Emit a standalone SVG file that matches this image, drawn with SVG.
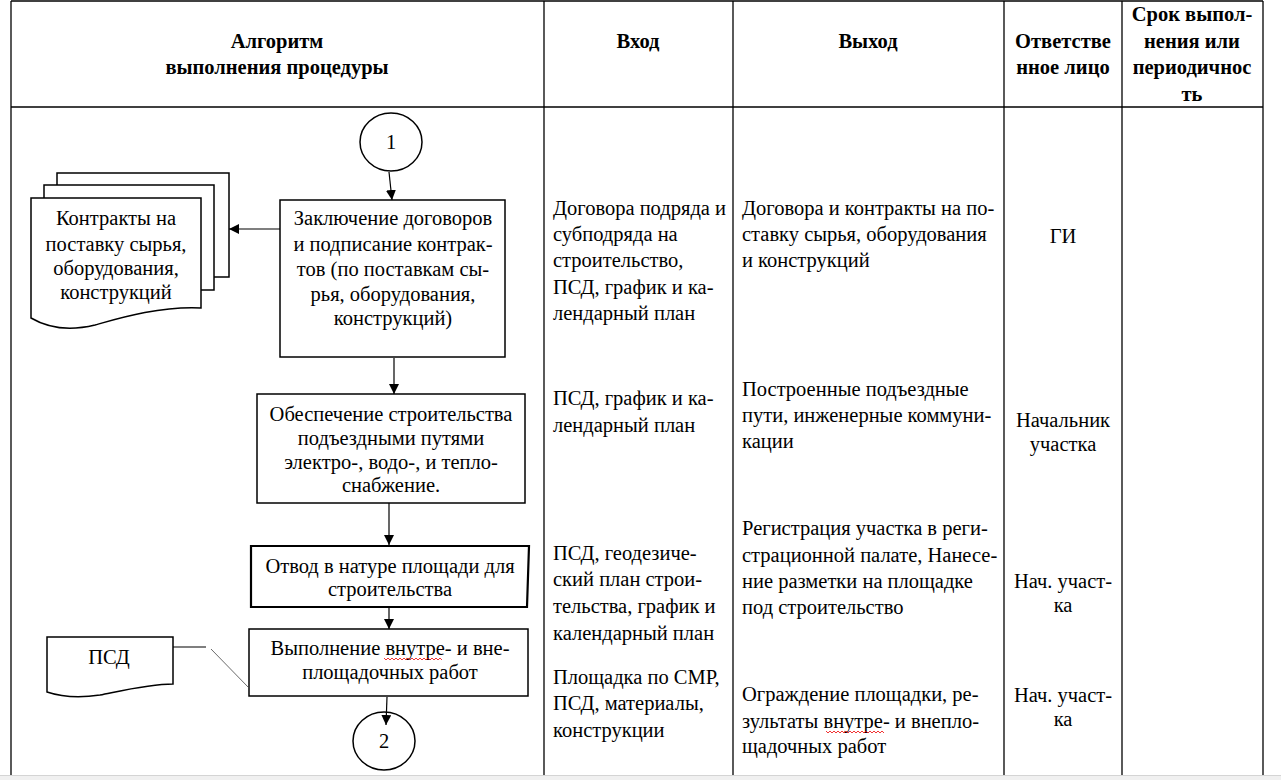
<svg xmlns="http://www.w3.org/2000/svg" width="1281" height="780" viewBox="0 0 1281 780">
<style>
.t{font-family:'Liberation Serif',serif;font-size:20.5px;fill:#000}
.h{font-family:'Liberation Serif',serif;font-size:20.5px;font-weight:bold;fill:#000}
.c{text-anchor:middle}
.grid{stroke:#000;stroke-width:1.3;fill:none}
.box{fill:#fff;stroke:#000;stroke-width:1.5}
.conn{stroke:#000;stroke-width:1.2;fill:none}
.wavy{stroke:#e00;stroke-width:0.8;fill:none}
</style>
<defs>
<marker id="arr" markerUnits="userSpaceOnUse" markerWidth="10" markerHeight="10" viewBox="0 0 10 10" refX="10" refY="5" orient="auto">
<path d="M0,0 L10,5 L0,10 Z" fill="#000"/>
</marker>
</defs>
<rect x="0" y="0" width="1281" height="780" fill="#fff"/>
<g id="table">
<line class="grid" x1="11" y1="1" x2="1263" y2="1"/>
<line class="grid" x1="11" y1="107" x2="1263" y2="107"/>
<line class="grid" x1="11" y1="1" x2="11" y2="775"/>
<line class="grid" x1="544" y1="1" x2="544" y2="775"/>
<line class="grid" x1="733" y1="1" x2="733" y2="775"/>
<line class="grid" x1="1004" y1="1" x2="1004" y2="775"/>
<line class="grid" x1="1122" y1="1" x2="1122" y2="775"/>
<line class="grid" x1="1263" y1="1" x2="1263" y2="775"/>
</g>
<g id="header">
<text class="h c" x="277" y="48">Алгоритм</text>
<text class="h c" x="277" y="74">выполнения процедуры</text>
<text class="h c" x="638" y="48">Вход</text>
<text class="h c" x="868" y="48">Выход</text>
<text class="h c" x="1063" y="48">Ответстве</text>
<text class="h c" x="1063" y="74">нное лицо</text>
<text class="h c" x="1192" y="21">Срок выпол-</text>
<text class="h c" x="1192" y="48">нения или</text>
<text class="h c" x="1192" y="74">периодичнос</text>
<text class="h c" x="1192" y="101">ть</text>
</g>
<g id="start1">
<ellipse class="box" cx="391" cy="142" rx="31" ry="29"/>
<text class="t c" x="391" y="149">1</text>
</g>
<g id="contracts-doc">
<rect class="box" x="57" y="173" width="172" height="104"/>
<rect class="box" x="44" y="185" width="170" height="105"/>
<path class="box" d="M31,198 H201 V308 C160,306 120,318 95,325 C70,331 48,328 31,318 Z"/>
<text class="t c" x="116" y="225">Контракты на</text>
<text class="t c" x="116" y="251">поставку сырья,</text>
<text class="t c" x="116" y="275">оборудования,</text>
<text class="t c" x="116" y="299">конструкций</text>
</g>
<g id="step1">
<rect class="box" x="280" y="200" width="225" height="157"/>
<text class="t c" x="393" y="225">Заключение договоров</text>
<text class="t c" x="393" y="251">и подписание контрак-</text>
<text class="t c" x="393" y="276">тов (по поставкам сы-</text>
<text class="t c" x="393" y="301">рья, оборудования,</text>
<text class="t c" x="393" y="325">конструкций)</text>
</g>
<g id="step2">
<rect class="box" x="257" y="394" width="268" height="109"/>
<text class="t c" x="391" y="421">Обеспечение строительства</text>
<text class="t c" x="391" y="445">подъездными путями</text>
<text class="t c" x="391" y="469">электро-, водо-, и тепло-</text>
<text class="t c" x="391" y="492">снабжение.</text>
</g>
<g id="step3">
<path d="M251,546 L529,546 L527,607 L251,607 Z" fill="#fff" stroke="#000" stroke-width="2.2"/>
<text class="t c" x="390" y="573">Отвод в натуре площади для</text>
<text class="t c" x="390" y="596">строительства</text>
</g>
<g id="step4">
<rect class="box" x="249" y="629" width="279" height="67"/>
<text class="t c" x="390" y="655">Выполнение внутре- и вне-</text>
<text class="t c" x="390" y="679">площадочных работ</text>
<path class="wavy" d="M384,658 l2,2 l2,-2 l2,2 l2,-2 l2,2 l2,-2 l2,2 l2,-2 l2,2 l2,-2 l2,2 l2,-2 l2,2 l2,-2 l2,2 l2,-2 l2,2 l2,-2 l2,2 l2,-2 l2,2 l2,-2 l2,2 l2,-2 l2,2 l2,-2 l2,2 l2,-2 l2,2"/>
</g>
<g id="psd-doc">
<path class="box" d="M47,637 H173 V684 C150,684 125,690 100,695 C80,698 62,697 47,692 Z"/>
<text class="t c" x="109" y="664">ПСД</text>
</g>
<g id="end2">
<ellipse class="box" cx="384" cy="741" rx="31" ry="29"/>
<text class="t c" x="384" y="748">2</text>
</g>
<g id="input-col">
<text class="t" x="553" y="215">Договора подряда и</text>
<text class="t" x="553" y="241">субподряда на</text>
<text class="t" x="553" y="267">строительство,</text>
<text class="t" x="553" y="294">ПСД, график и ка-</text>
<text class="t" x="553" y="320">лендарный план</text>
<text class="t" x="553" y="405">ПСД, график и ка-</text>
<text class="t" x="553" y="432">лендарный план</text>
<text class="t" x="553" y="560">ПСД, геодезиче-</text>
<text class="t" x="553" y="586">ский план строи-</text>
<text class="t" x="553" y="613">тельства, график и</text>
<text class="t" x="553" y="640">календарный план</text>
<text class="t" x="553" y="684">Площадка по СМР,</text>
<text class="t" x="553" y="710">ПСД, материалы,</text>
<text class="t" x="553" y="737">конструкции</text>
</g>
<g id="output-col">
<text class="t" x="742" y="215">Договора и контракты на по-</text>
<text class="t" x="742" y="241">ставку сырья, оборудования</text>
<text class="t" x="742" y="267">и конструкций</text>
<text class="t" x="742" y="396">Построенные подъездные</text>
<text class="t" x="742" y="422">пути, инженерные коммуни-</text>
<text class="t" x="742" y="448">кации</text>
<text class="t" x="742" y="535">Регистрация участка в реги-</text>
<text class="t" x="742" y="562">страционной палате, Нанесе-</text>
<text class="t" x="742" y="588">ние разметки на площадке</text>
<text class="t" x="742" y="614">под строительство</text>
<text class="t" x="742" y="701">Ограждение площадки, ре-</text>
<text class="t" x="742" y="728">зультаты внутре- и внепло-</text>
<text class="t" x="742" y="753">щадочных работ</text>
<path class="wavy" d="M826,731 l2,2 l2,-2 l2,2 l2,-2 l2,2 l2,-2 l2,2 l2,-2 l2,2 l2,-2 l2,2 l2,-2 l2,2 l2,-2 l2,2 l2,-2 l2,2 l2,-2 l2,2 l2,-2 l2,2 l2,-2 l2,2 l2,-2 l2,2 l2,-2 l2,2 l2,-2 l2,2"/>
</g>
<g id="resp-col">
<text class="t c" x="1063" y="243">ГИ</text>
<text class="t c" x="1063" y="427">Начальник</text>
<text class="t c" x="1063" y="451">участка</text>
<text class="t c" x="1063" y="588">Нач. участ-</text>
<text class="t c" x="1063" y="612">ка</text>
<text class="t c" x="1063" y="702">Нач. участ-</text>
<text class="t c" x="1063" y="726">ка</text>
</g>
<g id="connectors">
<line class="conn" x1="389" y1="172" x2="392" y2="200" marker-end="url(#arr)"/>
<line class="conn" x1="280" y1="229" x2="229" y2="229" marker-end="url(#arr)"/>
<line class="conn" x1="394" y1="358" x2="394" y2="394" marker-end="url(#arr)"/>
<line class="conn" x1="389" y1="503" x2="389" y2="545" marker-end="url(#arr)"/>
<line class="conn" x1="389" y1="608" x2="389" y2="629" marker-end="url(#arr)"/>
<line class="conn" x1="387" y1="697" x2="386" y2="725" marker-end="url(#arr)"/>
<line class="conn" x1="173" y1="647" x2="206" y2="647"/>
<line x1="211" y1="649" x2="249" y2="688" stroke="#444" stroke-width="0.8"/>
</g>
<g id="bottom-bar">
<rect x="0" y="775" width="1281" height="5" fill="#f0f0f0"/>
<line x1="0" y1="775.5" x2="1281" y2="775.5" stroke="#d4d4d4" stroke-width="1"/>
</g>
</svg>
